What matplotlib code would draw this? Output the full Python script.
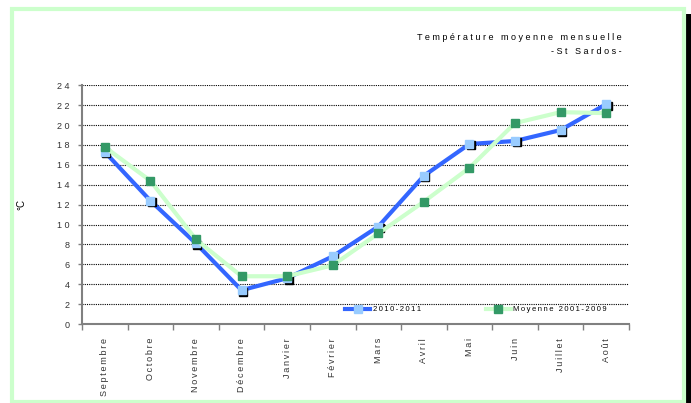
import matplotlib

matplotlib.use("Agg")
import matplotlib.pyplot as plt
import matplotlib.transforms as mtransforms
from matplotlib.patches import Rectangle
from matplotlib.lines import Line2D

months = ["Septembre", "Octobre", "Novembre", "Décembre", "Janvier", "Février",
          "Mars", "Avril", "Mai", "Juin", "Juillet", "Août"]
t_2010_2011 = [17.3, 12.4, 8.1, 3.4, 4.6, 6.8, 9.8, 14.9, 18.1, 18.4, 19.5, 22.1]
t_moy_2001_2009 = [17.8, 14.4, 8.5, 4.8, 4.8, 5.9, 9.1, 12.3, 15.7, 20.2, 21.3, 21.2]
y_ticks = list(range(0, 25, 2))


def spaced(s, sep=" "):
    # the original uses a widely letter-spaced narrow font
    return sep.join(s)


THIN = "\u2009"
plt.rcParams["font.family"] = ["Liberation Sans", "DejaVu Sans"]

W, H = 691, 403
fig = plt.figure(figsize=(W / 100, H / 100), dpi=100)
ax = fig.add_axes([82 / W, 1 - 324 / H, 547 / W, 238.7 / H])

x = list(range(len(months)))

# blue series: line, black shadow squares, light blue squares
ax.plot(x, t_2010_2011, color="#3366ff", lw=3, zorder=3)
shadow = mtransforms.offset_copy(ax.transData, fig=fig, x=1.5, y=-1.5, units="dots")
ax.plot(x, t_2010_2011, ls="none", marker="s", ms=5.5, color="black",
        mec="black", transform=shadow, zorder=3.1)
ax.plot(x, t_2010_2011, ls="none", marker="s", ms=5.5, color="#99ccff",
        mec="#99ccff", zorder=3.2)

# green series
ax.plot(x, t_moy_2001_2009, color="#ccffcc", lw=3, zorder=4)
ax.plot(x, t_moy_2001_2009, ls="none", marker="s", ms=5.5, color="#339966",
        mec="#339966", zorder=4.1)

ax.set_xlim(-0.5, len(months) - 0.5)
ax.set_ylim(0, 24)
ax.set_yticks(y_ticks)
ax.set_yticklabels([spaced(str(v)) for v in y_ticks], fontsize=6.5, color="#333333")
ax.yaxis.grid(True, color="black", ls=(0, (1, 1)), lw=0.8)
ax.set_axisbelow(True)

ax.set_xticks(x)
ax.set_xticklabels([spaced(m, THIN) for m in months], rotation=90, fontsize=6.5,
                   va="top", ha="center", color="#333333")
ax.set_xticks([i - 0.5 for i in range(len(months) + 1)], minor=True)
ax.tick_params(axis="x", which="major", length=0, pad=10)
ax.tick_params(axis="x", which="minor", length=4, width=1, color="#808080",
               direction="out")
ax.tick_params(axis="y", length=3, width=1, color="#808080", pad=6)

for side in ("top", "right"):
    ax.spines[side].set_visible(False)
for side in ("left", "bottom"):
    ax.spines[side].set_color("#808080")
    ax.spines[side].set_linewidth(1.5)

ax.set_ylabel("°C", fontsize=7, labelpad=22)

h1 = Line2D([], [], color="#3366ff", lw=3, marker="s", ms=5.5,
            mfc="#99ccff", mec="#99ccff")
h2 = Line2D([], [], color="#ccffcc", lw=3, marker="s", ms=5.5,
            mfc="#339966", mec="#339966")
ax.legend([h1, h2], [spaced("2010-2011", THIN), spaced("Moyenne 2001-2009", THIN)],
          ncol=2, frameon=False, fontsize=5.5, loc="center",
          bbox_to_anchor=((476 - 82) / 547, 0.06),
          handlelength=3.3, handletextpad=0.3, columnspacing=8.5,
          borderaxespad=0)

fig.text(622 / W, 1 - 37 / H, spaced("Température moyenne mensuelle"),
         ha="right", va="center", fontsize=6.5)
fig.text(622 / W, 1 - 52 / H, spaced("-St Sardos-"),
         ha="right", va="center", fontsize=6.5)

# frame around the whole chart
fig.add_artist(Rectangle((686 / W, 0), 5 / W, 1 - 14 / H, transform=fig.transFigure,
                         facecolor="black", edgecolor="none"))
fig.add_artist(Rectangle((11.5 / W, 1.5 / H), 672.5 / W, 392.5 / H,
                         transform=fig.transFigure, fill=False,
                         edgecolor="#ccffcc", lw=3))

fig.savefig("out.png", dpi=100)
